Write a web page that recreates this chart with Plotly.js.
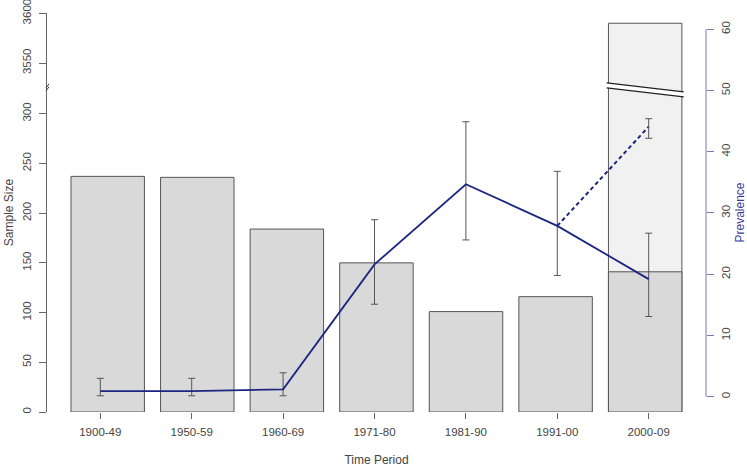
<!DOCTYPE html>
<html>
<head>
<meta charset="utf-8">
<script src="https://cdn.plot.ly/plotly-3.0.1.min.js"></script>
<style>html,body{margin:0;padding:0;background:#fff}#chart{width:747px;height:467px}</style>
</head>
<body>
<div id="chart"></div>
<script>
// ---- data ----
var periods = ["1900-49","1950-59","1960-69","1971-80","1981-90","1991-00","2000-09"];
var sampleSize = [237, 236, 184, 150, 101, 116, 141];
var sampleSizeTotalLast = 3590;          // full sample size of 2000-09 (beyond axis break)
var prevalence = [0.9, 0.9, 1.2, 21.6, 34.7, 27.9, 19.2];
var prevUpper  = [3.0, 3.0, 3.9, 28.9, 44.9, 36.8, 26.7];
var prevLower  = [0.15, 0.15, 0.15, 15.1, 25.6, 19.8, 13.1];
var altPrevLast = 44.1, altPrevLastUpper = 45.4, altPrevLastLower = 42.2;
var leftTickVals = [0, 50, 100, 150, 200, 250, 300, 3550, 3600];
var rightTickVals = [0, 10, 20, 30, 40, 50, 60];

// ---- axis break mapping ----
var BREAK_AT = 326, BREAK_OFFSET = 3199;
function mapY(v){ return v > BREAK_AT ? v - BREAK_OFFSET : v; }

var idx = periods.map(function(_, i){ return i; });
var last = periods.length - 1;
var navy = '#1c2580', edge = '#555555', axisBlue = '#7878b4';
var barW = 0.82;

var traces = [
  { type:'bar', x:[last], y:[mapY(sampleSizeTotalLast)], width:barW,
    marker:{color:'#f1f1f1', line:{color:edge, width:1}}, xaxis:'x', yaxis:'y', hoverinfo:'skip' },
  { type:'bar', x:idx, y:sampleSize.map(mapY), width:barW,
    marker:{color:'#d9d9d9', line:{color:edge, width:1}}, xaxis:'x', yaxis:'y' },
  { type:'scatter', mode:'lines', x:idx, y:prevalence, xaxis:'x2', yaxis:'y2',
    line:{color:navy, width:1.8},
    error_y:{type:'data', symmetric:false,
      array: prevUpper.map(function(u,i){ return u - prevalence[i]; }),
      arrayminus: prevLower.map(function(l,i){ return prevalence[i] - l; }),
      color:'#555', thickness:1, width:3.5} },
  { type:'scatter', mode:'lines', x:[last-1, last], y:[prevalence[last-1], altPrevLast],
    xaxis:'x2', yaxis:'y2', line:{color:navy, width:2, dash:'4px,3px'} },
  { type:'scatter', mode:'markers', x:[last], y:[altPrevLast], xaxis:'x2', yaxis:'y2',
    marker:{size:1, color:'rgba(0,0,0,0)'},
    error_y:{type:'data', symmetric:false, array:[altPrevLastUpper-altPrevLast],
      arrayminus:[altPrevLast-altPrevLastLower], color:'#555', thickness:1, width:3.5} }
];

var bx0 = last - 0.43, bx1 = last + 0.43;
var shapes = [
  // white band of the break across the last bar
  { type:'path', xref:'x', yref:'y', layer:'above',
    path:'M'+bx0+','+(BREAK_AT+5)+' L'+bx1+','+(BREAK_AT-4)+' L'+bx1+','+(BREAK_AT-9)+' L'+bx0+','+BREAK_AT+' Z',
    fillcolor:'#ffffff', line:{width:0} },
  { type:'line', xref:'x', yref:'y', x0:bx0, y0:BREAK_AT+5, x1:bx1, y1:BREAK_AT-4, line:{color:'#222', width:1.3} },
  { type:'line', xref:'x', yref:'y', x0:bx0, y0:BREAK_AT, x1:bx1, y1:BREAK_AT-9, line:{color:'#222', width:1.3} },
  // right axis line (only spans 0..60)
  { type:'line', xref:'paper', yref:'y2', x0:1, x1:1, y0:0, y1:60, line:{color:axisBlue, width:1} },
  // break mark on left axis
  { type:'line', xref:'paper', xsizemode:'pixel', xanchor:0, x0:-1, x1:2, yref:'y', y0:BREAK_AT-3, y1:BREAK_AT+1, line:{color:'#333', width:1} },
  { type:'line', xref:'paper', xsizemode:'pixel', xanchor:0, x0:-1, x1:2, yref:'y', y0:BREAK_AT, y1:BREAK_AT+4, line:{color:'#333', width:1} }
];

var font = {family:'"Liberation Sans", Arial, sans-serif', size:11.5, color:'#444'};
var tfont = {family:font.family, size:12, color:'#444'};

var layout = {
  width:747, height:467,
  margin:{l:47, r:41, t:13, b:55},
  paper_bgcolor:'#fff', plot_bgcolor:'rgba(0,0,0,0)',
  showlegend:false, barmode:'overlay',
  font:font,
  xaxis:{ range:[-0.6776, 6.679], showticklabels:false, ticks:'', showgrid:false, zeroline:false, showline:false },
  xaxis2:{ overlaying:'x', side:'bottom', anchor:'y', range:[-0.5832, 6.627],
    tickvals:idx, ticktext:periods, ticks:'outside', ticklen:6, tickcolor:'#666', tickwidth:1,
    ticklabelstandoff:3,
    showgrid:false, zeroline:false, showline:false, tickfont:font,
    title:{text:'Time Period', font:tfont, standoff:22} },
  yaxis:{ range:[0, 401.3], tickvals:leftTickVals.map(mapY), ticktext:leftTickVals.map(String),
    ticks:'outside', ticklen:7, tickcolor:'#666', tickwidth:1, tickangle:-90, ticklabelstandoff:3,
    ticklabeloverflow:'allow',
    showline:true, linecolor:'#666', linewidth:1, showgrid:false, zeroline:false, tickfont:font,
    title:{text:'Sample Size', font:tfont, standoff:5} },
  yaxis2:{ overlaying:'y', side:'right', anchor:'x', range:[-2.50, 62.66],
    tickvals:rightTickVals, ticks:'outside', ticklen:7, tickcolor:axisBlue, tickwidth:1, tickangle:-90,
    ticklabelstandoff:2, ticklabeloverflow:'allow',
    showline:false, showgrid:false, zeroline:false, tickfont:font,
    title:{text:'Prevalence', font:{family:font.family, size:12, color:'#3a3a9c'}, standoff:5} },
  shapes:shapes
};

Plotly.newPlot('chart', traces, layout, {staticPlot:true, displayModeBar:false});
</script>
</body>
</html>
